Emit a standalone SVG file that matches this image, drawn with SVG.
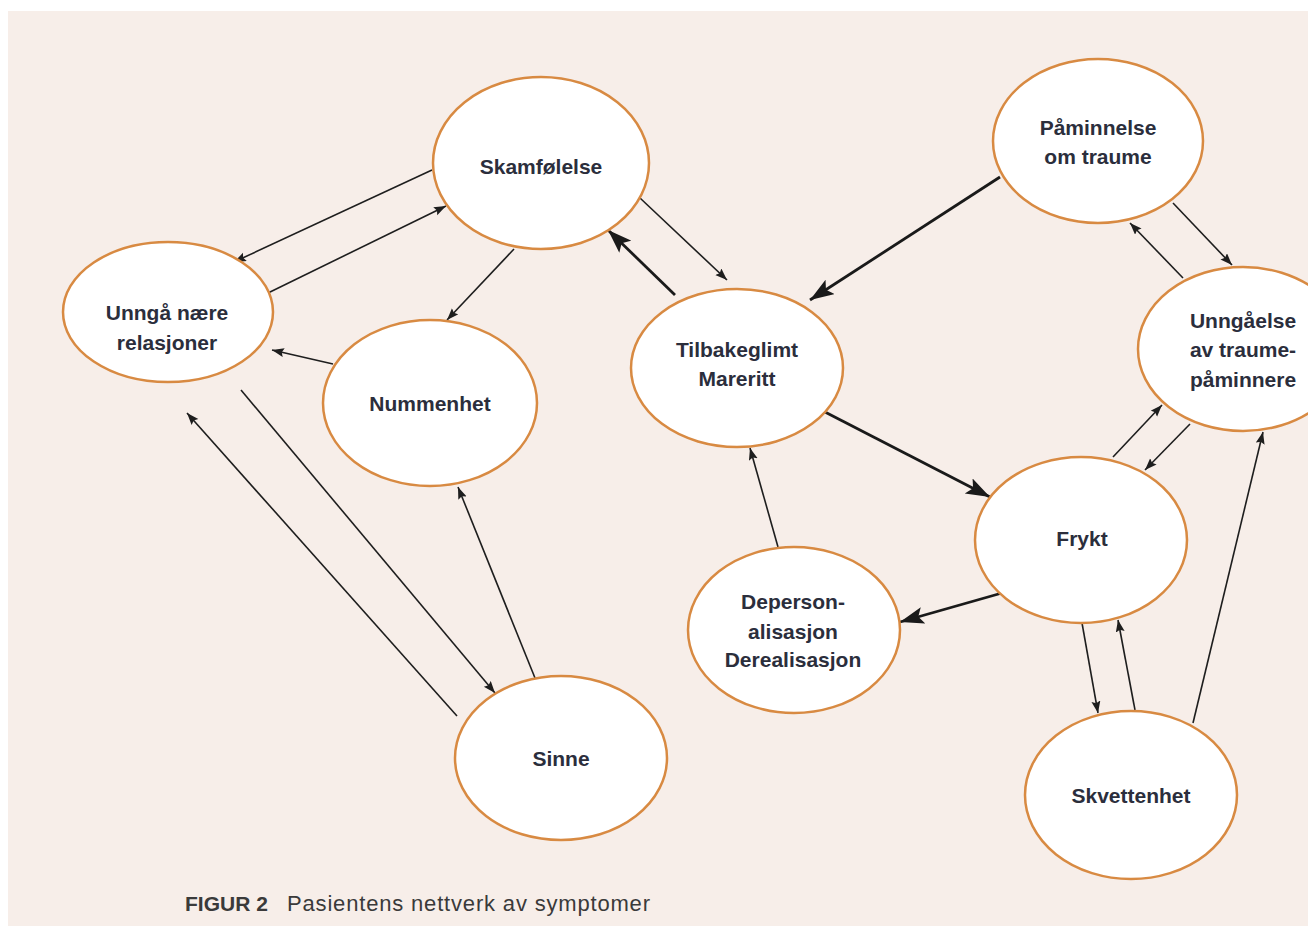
<svg xmlns="http://www.w3.org/2000/svg" width="1308" height="926" viewBox="0 0 1308 926">
<style>
.node ellipse{fill:#ffffff;stroke:#d88a42;stroke-width:2.5}
.node text{font-family:"Liberation Sans",Arial,sans-serif;font-weight:bold;font-size:21px;fill:#2b2e3c;text-anchor:middle}
.thin{stroke:#1e1e1e;stroke-width:1.6;fill:none;marker-end:url(#ah)}
.thick{stroke:#1a1a1a;stroke-width:2.8;fill:none;marker-end:url(#ahb)}
.cap{font-family:"Liberation Sans",Arial,sans-serif;fill:#3a3a3a}
</style>
<defs>
<marker id="ah" markerUnits="userSpaceOnUse" markerWidth="14" markerHeight="10" refX="12" refY="4.5" orient="auto">
<path d="M0,0 L12,4.5 L0,9 L2,4.5 z" fill="#1e1e1e"/>
</marker>
<marker id="ahb" markerUnits="userSpaceOnUse" markerWidth="26" markerHeight="18" refX="24" refY="8.5" orient="auto">
<path d="M0,0 L24,8.5 L0,17 L5,8.5 z" fill="#1a1a1a"/>
</marker>
</defs>
<rect x="0" y="0" width="1308" height="926" fill="#ffffff"/>
<rect x="8" y="11" width="1300" height="915" fill="#f7eee9"/>
<g id="connectors">
<line class="thin" x1="432" y1="170" x2="234" y2="262"/>
<line class="thin" x1="268" y1="293" x2="446" y2="206"/>
<line class="thin" x1="514" y1="249" x2="447" y2="320"/>
<line class="thin" x1="333" y1="364" x2="272" y2="350"/>
<line class="thin" x1="241" y1="390" x2="495" y2="693"/>
<line class="thin" x1="457" y1="716" x2="187" y2="413"/>
<line class="thin" x1="535" y1="678" x2="458" y2="487"/>
<line class="thick" x1="675" y1="295" x2="608" y2="230"/>
<line class="thin" x1="640" y1="198" x2="727" y2="280"/>
<line class="thick" x1="1000" y1="177" x2="810" y2="300"/>
<line class="thick" x1="825" y1="412" x2="990" y2="497"/>
<line class="thick" x1="1002" y1="593" x2="900" y2="622"/>
<line class="thin" x1="778" y1="547" x2="750" y2="448"/>
<line class="thin" x1="1173" y1="203" x2="1232" y2="265"/>
<line class="thin" x1="1183" y1="278" x2="1130" y2="223"/>
<line class="thin" x1="1113" y1="457" x2="1162" y2="405"/>
<line class="thin" x1="1190" y1="424" x2="1145" y2="470"/>
<line class="thin" x1="1082" y1="623" x2="1098" y2="713"/>
<line class="thin" x1="1135" y1="710" x2="1118" y2="620"/>
<line class="thin" x1="1193" y1="723" x2="1263" y2="432"/>
</g>
<g id="skamfolelse" class="node"><ellipse cx="541" cy="163" rx="108" ry="86"/><text x="541" y="174">Skamfølelse</text></g>
<g id="unnga" class="node"><ellipse cx="168" cy="312" rx="105" ry="70"/><text x="167" y="320">Unngå nære</text><text x="167" y="350">relasjoner</text></g>
<g id="nummenhet" class="node"><ellipse cx="430" cy="403" rx="107" ry="83"/><text x="430" y="411">Nummenhet</text></g>
<g id="sinne" class="node"><ellipse cx="561" cy="758" rx="106" ry="82"/><text x="561" y="766">Sinne</text></g>
<g id="tilbakeglimt" class="node"><ellipse cx="737" cy="368" rx="106" ry="79"/><text x="737" y="357">Tilbakeglimt</text><text x="737" y="386">Mareritt</text></g>
<g id="paminnelse" class="node"><ellipse cx="1098" cy="141" rx="105" ry="82"/><text x="1098" y="135">Påminnelse</text><text x="1098" y="164">om traume</text></g>
<g id="unngaelse" class="node"><ellipse cx="1243" cy="349" rx="105" ry="82"/><text x="1243" y="328">Unngåelse</text><text x="1243" y="357">av traume-</text><text x="1243" y="387">påminnere</text></g>
<g id="frykt" class="node"><ellipse cx="1081" cy="540" rx="106" ry="83"/><text x="1082" y="546">Frykt</text></g>
<g id="depersonalisasjon" class="node"><ellipse cx="794" cy="630" rx="106" ry="83"/><text x="793" y="609">Deperson-</text><text x="793" y="639">alisasjon</text><text x="793" y="667">Derealisasjon</text></g>
<g id="skvettenhet" class="node"><ellipse cx="1131" cy="795" rx="106" ry="84"/><text x="1131" y="803">Skvettenhet</text></g>
<text class="cap" x="185" y="911" font-size="21" font-weight="bold" fill="#222" textLength="83">FIGUR 2</text>
<text class="cap" x="287" y="911" font-size="22" textLength="363">Pasientens nettverk av symptomer</text>
</svg>
